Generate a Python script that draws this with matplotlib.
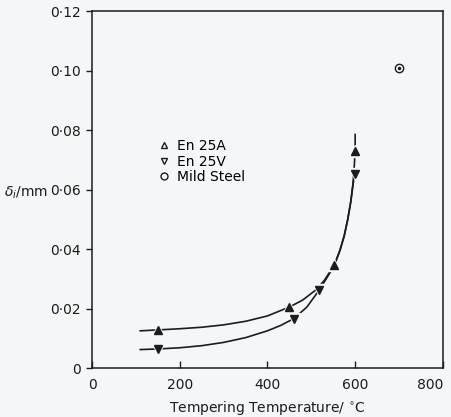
import numpy as np
import matplotlib.pyplot as plt
from matplotlib.lines import Line2D

# measured points
temp_a = [150, 450, 552, 600]
delta_a = [0.0128, 0.0205, 0.0346, 0.0730]
temp_v = [150, 460, 518, 600]
delta_v = [0.0064, 0.0164, 0.0262, 0.0652]
temp_ms = [700]
delta_ms = [0.1007]

# hand drawn curves
curve_a_x = [110, 150, 200, 250, 300, 350, 400, 450, 480, 510, 530, 552, 565, 575, 583, 590, 595, 598, 600, 600]
curve_a_y = [0.0125, 0.0128, 0.0132, 0.0137, 0.0145, 0.0157, 0.0175, 0.0205, 0.0228, 0.0262, 0.0295, 0.0346,
             0.0395, 0.0445, 0.0500, 0.0560, 0.0620, 0.0680, 0.0730, 0.0785]
curve_v_x = [110, 150, 200, 250, 300, 350, 400, 430, 460, 490, 518, 535, 552, 565, 575, 583, 590, 595, 599]
curve_v_y = [0.0062, 0.0064, 0.0068, 0.0075, 0.0086, 0.0102, 0.0125, 0.0143, 0.0166, 0.0205, 0.0262, 0.0302,
             0.0343, 0.0393, 0.0443, 0.0498, 0.0558, 0.0615, 0.0652]

xticks = [0, 200, 400, 600, 800]
yticks = [0, 0.02, 0.04, 0.06, 0.08, 0.10, 0.12]
ylabels = ['0', '0·02', '0·04', '0·06', '0·08', '0·10', '0·12']

bg = '#f4f6f7'
ink = '#1c1c1c'

fig = plt.figure(figsize=(4.51, 4.17), dpi=100, facecolor=bg)
ax = fig.add_axes([0.204, 0.1175, 0.778, 0.856], facecolor=bg)

ax.plot(curve_a_x, curve_a_y, color=ink, lw=1.2, zorder=2)
ax.plot(curve_v_x, curve_v_y, color=ink, lw=1.2, zorder=2)

# white halo so the line breaks at each marker
ax.plot(temp_a, delta_a, '^', ms=9, color=bg, ls='none', zorder=3)
ax.plot(temp_v, delta_v, 'v', ms=9, color=bg, ls='none', zorder=3)
ax.plot(temp_a, delta_a, '^', ms=5.5, color=ink, ls='none', zorder=4)
ax.plot(temp_v, delta_v, 'v', ms=5.5, color=ink, ls='none', zorder=4)
ax.plot(temp_ms, delta_ms, 'o', ms=6, mfc='none', mec=ink, mew=1, ls='none', zorder=4)
ax.plot(temp_ms, delta_ms, '.', ms=3, color=ink, ls='none', zorder=4)

ax.set_xlim(0, 800)
ax.set_ylim(0, 0.12)
ax.set_xticks(xticks)
ax.set_xticklabels([str(t) for t in xticks], fontsize=10)
ax.get_xticklabels()[-1].set_horizontalalignment('right')
ax.get_xticklabels()[-1].set_x(800)
ax.set_yticks(yticks)
ax.set_yticklabels(ylabels, fontsize=10)
ax.tick_params(axis='x', direction='in', length=5, width=1, pad=7, colors=ink)
ax.tick_params(axis='y', direction='out', length=4, width=1, pad=4, colors=ink)
for s in ax.spines.values():
    s.set_color(ink)
    s.set_linewidth(1.1)

ax.set_xlabel('Tempering Temperature/ $^{\\circ}$C', fontsize=10, color=ink, labelpad=5)
ax.set_ylabel(r'$\delta_i$/mm', fontsize=10, color=ink, rotation=0, ha='right', va='center')
ax.yaxis.set_label_coords(-0.125, 0.49)

handles = [
    Line2D([], [], marker='^', ms=5, mfc='none', mec=ink, ls='none', label='En 25A'),
    Line2D([], [], marker='v', ms=5, mfc='none', mec=ink, ls='none', label='En 25V'),
    Line2D([], [], marker='o', ms=5, mfc='none', mec=ink, ls='none', label='Mild Steel'),
]
ax.legend(handles=handles, loc='upper left', bbox_to_anchor=(0.17, 0.66), frameon=False,
          fontsize=10, handlelength=0.8, handletextpad=0.5, labelspacing=0.1, borderpad=0)

fig.savefig('out.png', dpi=100, facecolor=bg)
